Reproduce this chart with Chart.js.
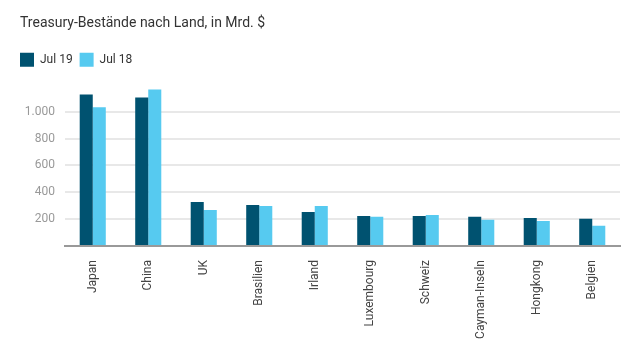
<!DOCTYPE html>
<html>
<head>
<meta charset="utf-8">
<script src="https://cdn.jsdelivr.net/npm/chart.js@4"></script>
<style>
html,body{margin:0;padding:0;background:#fff;}
#wrap{position:relative;width:640px;height:360px;}
</style>
</head>
<body>
<div id="wrap"><canvas id="c" width="640" height="360"></canvas></div>
<script>
const categories = ["Japan","China","UK","Brasilien","Irland","Luxembourg","Schweiz","Cayman-Inseln","Hongkong","Belgien"];
const jul19 = [1128, 1106, 327, 305, 254, 224, 224, 217, 209, 202];
const jul18 = [1033, 1165, 268, 298, 298, 217, 231, 195, 187, 151];
const seriesNames = ["Jul 19", "Jul 18"];
const yTicks = [200, 400, 600, 800, 1000];
const subtitle = "Treasury-Bestände nach Land, in Mrd. $";

const FONT = "Roboto, 'Noto Sans', sans-serif";
const legendShift = {
  id: 'legendShift',
  beforeDraw(chart) {
    const l = chart.legend;
    if (l && !l._shifted) { l.left -= 7; l.right -= 7; l.top -= 8; l.bottom -= 8; l._shifted = true; }
  }
};
new Chart(document.getElementById('c'), {
  type: 'bar',
  plugins: [legendShift],
  data: {
    labels: categories,
    datasets: [
      {label: seriesNames[0], data: jul19, backgroundColor: '#005270', categoryPercentage: 0.47, barPercentage: 1.0},
      {label: seriesNames[1], data: jul18, backgroundColor: '#56caf0', categoryPercentage: 0.47, barPercentage: 1.0}
    ]
  },
  options: {
    responsive: false,
    animation: false,
    layout: {padding: {left: 20, right: 20, top: 0, bottom: 0}},
    plugins: {
      title: {display: true, text: subtitle, align: 'start', color: '#333', font: {family: FONT, size: 14, weight: 'normal'}, padding: {top: 15, bottom: 22}},
      legend: {display: true, align: 'start', labels: {boxWidth: 14, boxHeight: 14, color: '#333', font: {family: FONT, size: 12}, padding: 7}},
      tooltip: {enabled: false}
    },
    scales: {
      x: {
        grid: {display: false},
        border: {display: true, color: '#999', width: 2},
        ticks: {color: '#444', font: {family: FONT, size: 12}, minRotation: 90, maxRotation: 90, autoSkip: false, padding: 6},
        afterFit: s => { s.height = 114; }
      },
      y: {
        min: 0, max: 1200,
        afterBuildTicks: s => { s.ticks = [0].concat(yTicks).concat([1200]).map(v => ({value: v})); },
        grid: {color: ctx => (ctx.tick && yTicks.includes(ctx.tick.value)) ? '#e8e8e8' : 'rgba(0,0,0,0)', lineWidth: 2, drawTicks: false},
        border: {display: false},
        ticks: {
          color: '#999', font: {family: FONT, size: 12}, padding: 10,
          callback: v => yTicks.includes(v) ? v.toLocaleString('de-DE') : ''
        },
        afterFit: s => { s.width = 45; }
      }
    }
  }
});
</script>
</body>
</html>
